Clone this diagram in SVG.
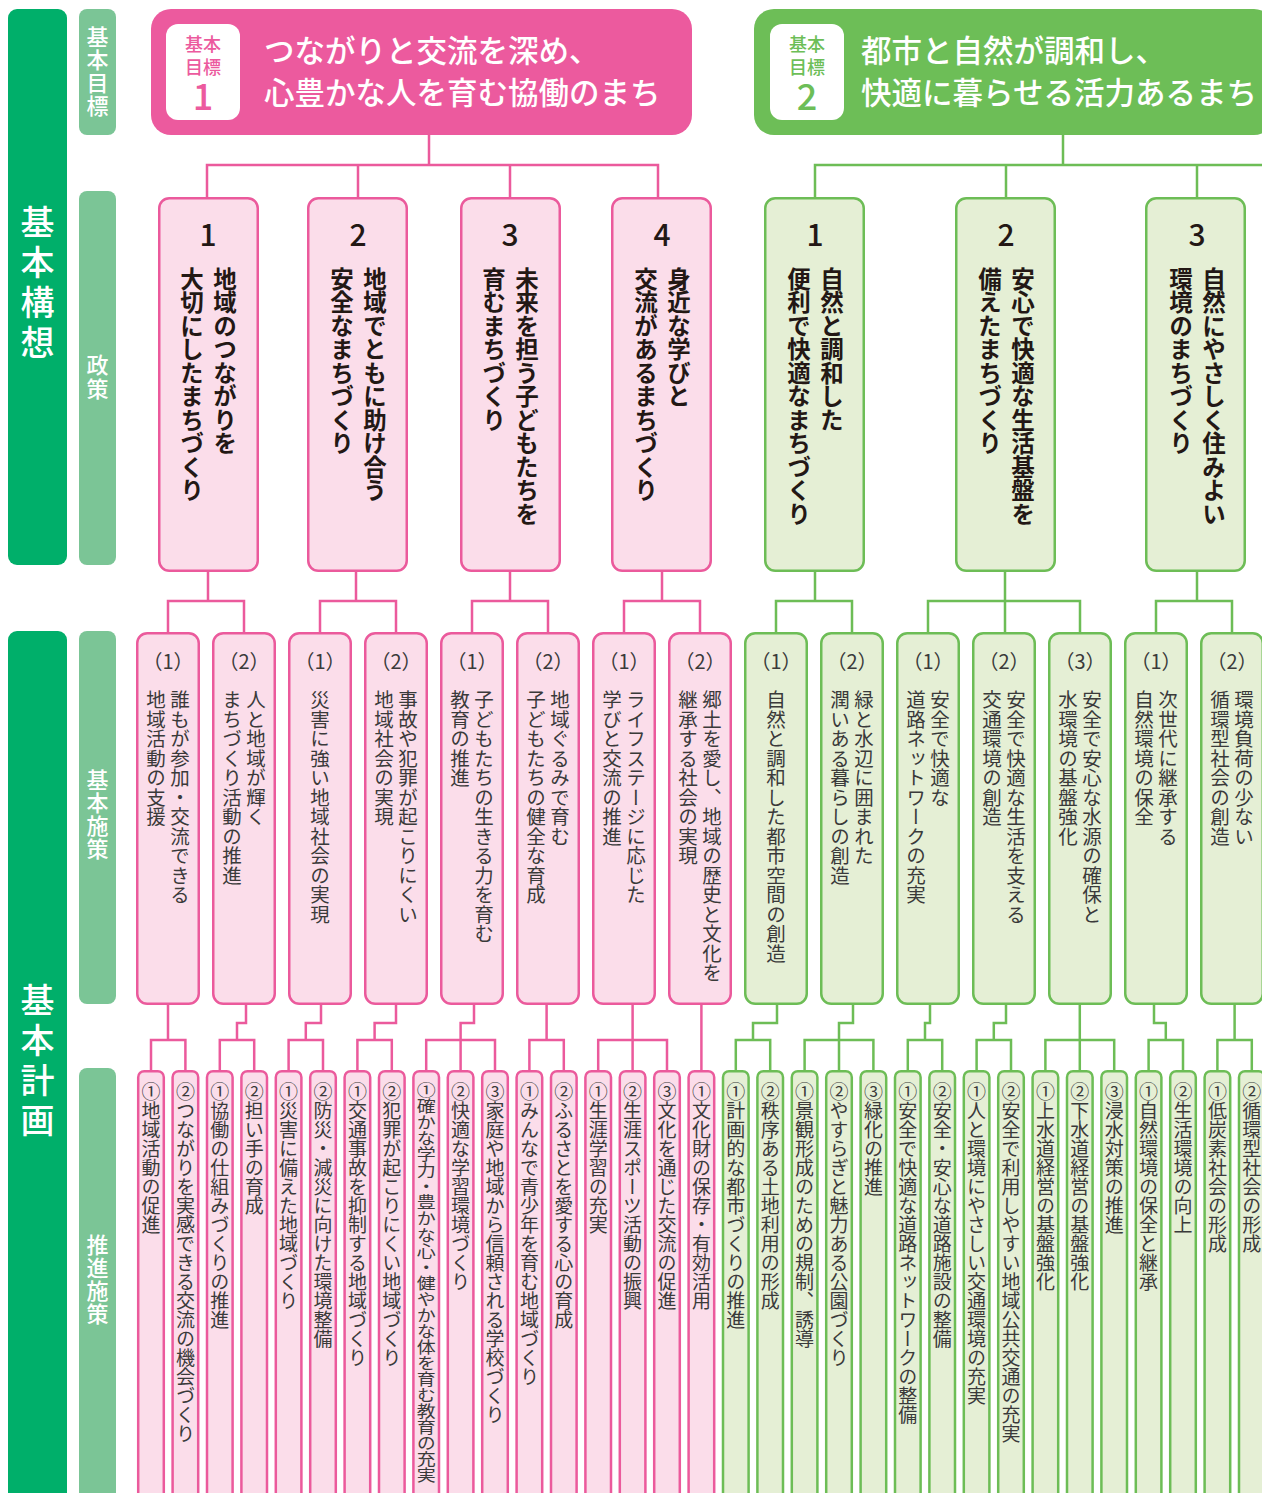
<svg xmlns="http://www.w3.org/2000/svg" width="1262" height="1493" viewBox="0 0 1262 1493">
<style>
  text { font-family: "Noto Sans CJK JP", "Noto Sans", sans-serif; }
  .v { writing-mode: vertical-rl; }
  .dk { fill: #00AF6A; }
  .lt { fill: #7BC596; }
  .lbl { fill: #ffffff; font-size: 22px; font-weight: 500; }
  .big { fill: #ffffff; font-size: 34px; font-weight: 500; letter-spacing: 6px; }
  .ttl { fill: #ffffff; font-size: 30.5px; font-weight: 500; }
  .pbox { fill: #FBDDEA; stroke: #EB5A9C; stroke-width: 2.5; }
  .gbox { fill: #E5EFD5; stroke: #6DBD56; stroke-width: 2.5; }
  .num { fill: #231815; font-size: 30px; font-weight: 500; text-anchor: middle; }
  .pol { fill: #231815; font-size: 23.5px; font-weight: 700; }
  .par { fill: #3A3A3A; font-size: 20px; text-anchor: middle; }
  .bas { fill: #3A3A3A; font-size: 19.5px; }
  .pro { fill: #3A3A3A; font-size: 19px; }
  .gl { font-size: 18px; font-weight: 500; text-anchor: middle; }
  .pc { fill: none; stroke: #EB5A9C; stroke-width: 2.5; }
  .gc { fill: none; stroke: #6DBD56; stroke-width: 2.5; }
</style>

<!-- left labels -->
<g id="side">
  <rect class="dk" x="8" y="9" width="59" height="556" rx="9"/>
  <text class="big v" x="37.5" y="205">基本構想</text>
  <rect class="dk" x="8" y="631" width="59" height="880" rx="9"/>
  <text class="big v" x="37.5" y="983">基本計画</text>
  <rect class="lt" x="79" y="9" width="37" height="126" rx="8"/>
  <text class="lbl v" x="97.5" y="26" style="letter-spacing:1px">基本目標</text>
  <rect class="lt" x="79" y="191" width="37" height="374" rx="8"/>
  <text class="lbl v" x="97.5" y="354" style="letter-spacing:2px">政策</text>
  <rect class="lt" x="79" y="631" width="37" height="373" rx="8"/>
  <text class="lbl v" x="97.5" y="769" style="letter-spacing:1px">基本施策</text>
  <rect class="lt" x="79" y="1068" width="37" height="440" rx="8"/>
  <text class="lbl v" x="97.5" y="1234" style="letter-spacing:1px">推進施策</text>
</g>

<!-- connectors -->
<g id="connectors">
  <path class="pc" d="M429 135V165 M207 197V165H658V197 M358 165V197 M510 165V197"/>
  <path class="gc" d="M1063 135V165 M815 197V165H1262 M1006 165V197 M1197 165V197"/>
  <path class="pc" d="M208 572V601 M168 632V601H244V632"/>
  <path class="pc" d="M356 572V601 M320 632V601H396V632"/>
  <path class="pc" d="M510 572V601 M472 632V601H548V632"/>
  <path class="pc" d="M662 572V601 M624 632V601H700V632"/>
  <path class="gc" d="M815 572V601 M776 632V601H852V632"/>
  <path class="gc" d="M1005 572V632 M928 632V601H1080V632"/>
  <path class="gc" d="M1197 572V601 M1156 632V601H1232V632"/>

  <path class="pc" d="M168 1005V1040 M151 1070V1040H185.4V1070"/>
  <path class="pc" d="M246 1005V1023H237V1040 M219.8 1070V1040H254.2V1070"/>
  <path class="pc" d="M321 1005V1023H305.8V1040 M288.6 1070V1040H323V1070"/>
  <path class="pc" d="M396 1005V1023H374.6V1040 M357.4 1070V1040H391.8V1070"/>
  <path class="pc" d="M474 1005V1023H460.6V1070 M426.2 1070V1040H495V1070"/>
  <path class="pc" d="M546.6 1005V1040 M529.4 1070V1040H563.8V1070"/>
  <path class="pc" d="M632.6 1005V1070 M598.2 1070V1040H667V1070"/>
  <path class="pc" d="M701.4 1005V1070"/>
  <path class="gc" d="M777 1005V1023H753V1040 M735.8 1070V1040H770.2V1070"/>
  <path class="gc" d="M853 1005V1023H839V1070 M804.6 1070V1040H873.4V1070"/>
  <path class="gc" d="M930 1005V1023H925V1040 M907.8 1070V1040H942.2V1070"/>
  <path class="gc" d="M1006 1005V1023H993.8V1040 M976.6 1070V1040H1011V1070"/>
  <path class="gc" d="M1079.8 1005V1070 M1045.4 1070V1040H1114.2V1070"/>
  <path class="gc" d="M1154 1005V1023H1165.8V1040 M1148.6 1070V1040H1183V1070"/>
  <path class="gc" d="M1234.6 1005V1040 M1217.4 1070V1040H1251.8V1070"/>
</g>

<!-- goals -->
<g id="goal1">
  <rect x="151" y="9" width="541" height="126" rx="20" fill="#EC5A9E"/>
  <rect x="166" y="24" width="74" height="96" rx="12" fill="#ffffff"/>
  <text class="gl" x="203" y="51" fill="#EC5A9E">基本</text>
  <text class="gl" x="203" y="74" fill="#EC5A9E">目標</text>
  <text x="203" y="110" fill="#EC5A9E" font-size="36" font-weight="500" text-anchor="middle">1</text>
  <text class="ttl" x="264" y="62">つながりと交流を深め、</text>
  <text class="ttl" x="264" y="104">心豊かな人を育む協働のまち</text>
</g>
<g id="goal2">
  <rect x="754" y="9" width="520" height="126" rx="20" fill="#6DBE57"/>
  <rect x="770" y="24" width="74" height="96" rx="12" fill="#ffffff"/>
  <text class="gl" x="807" y="51" fill="#6DBE57">基本</text>
  <text class="gl" x="807" y="74" fill="#6DBE57">目標</text>
  <text x="807" y="110" fill="#6DBE57" font-size="36" font-weight="500" text-anchor="middle">2</text>
  <text class="ttl" x="861" y="62">都市と自然が調和し、</text>
  <text class="ttl" x="861" y="104">快適に暮らせる活力あるまち</text>
</g>

<!-- policies -->
<g id="policy-p1"><rect class="pbox" x="159.25" y="198.25" width="98.5" height="372.5" rx="10"/>
  <text class="num" x="208" y="246">1</text>
  <text class="pol v" x="225" y="267">地域のつながりを</text>
  <text class="pol v" x="192" y="267">大切にしたまちづくり</text></g>
<g id="policy-p2"><rect class="pbox" x="308.25" y="198.25" width="98.5" height="372.5" rx="10"/>
  <text class="num" x="358" y="246">2</text>
  <text class="pol v" x="375" y="267">地域でともに助け合う</text>
  <text class="pol v" x="342" y="267">安全なまちづくり</text></g>
<g id="policy-p3"><rect class="pbox" x="461.25" y="198.25" width="98.5" height="372.5" rx="10"/>
  <text class="num" x="510" y="246">3</text>
  <text class="pol v" x="527" y="267">未来を担う子どもたちを</text>
  <text class="pol v" x="494" y="267">育むまちづくり</text></g>
<g id="policy-p4"><rect class="pbox" x="612.25" y="198.25" width="98.5" height="372.5" rx="10"/>
  <text class="num" x="662" y="246">4</text>
  <text class="pol v" x="679" y="267">身近な学びと</text>
  <text class="pol v" x="646" y="267">交流があるまちづくり</text></g>
<g id="policy-g1"><rect class="gbox" x="765.25" y="198.25" width="98.5" height="372.5" rx="10"/>
  <text class="num" x="815" y="246">1</text>
  <text class="pol v" x="832" y="267">自然と調和した</text>
  <text class="pol v" x="799" y="267">便利で快適なまちづくり</text></g>
<g id="policy-g2"><rect class="gbox" x="956.25" y="198.25" width="98.5" height="372.5" rx="10"/>
  <text class="num" x="1006" y="246">2</text>
  <text class="pol v" x="1023" y="267">安心で快適な生活基盤を</text>
  <text class="pol v" x="990" y="267">備えたまちづくり</text></g>
<g id="policy-g3"><rect class="gbox" x="1146.25" y="198.25" width="98.5" height="372.5" rx="10"/>
  <text class="num" x="1197" y="246">3</text>
  <text class="pol v" x="1214" y="267">自然にやさしく住みよい</text>
  <text class="pol v" x="1181" y="267">環境のまちづくり</text></g>

<!-- basic measures -->
<g id="basic-p1-1"><rect class="pbox" x="137.25" y="633.25" width="61.5" height="370.5" rx="10"/>
  <text class="par" x="168" y="669">（1）</text>
  <text class="bas v" x="180" y="690">誰もが参加・交流できる</text>
  <text class="bas v" x="156" y="690">地域活動の支援</text></g>
<g id="basic-p1-2"><rect class="pbox" x="213.25" y="633.25" width="61.5" height="370.5" rx="10"/>
  <text class="par" x="244" y="669">（2）</text>
  <text class="bas v" x="256" y="690">人と地域が輝く</text>
  <text class="bas v" x="232" y="690">まちづくり活動の推進</text></g>
<g id="basic-p2-1"><rect class="pbox" x="289.25" y="633.25" width="61.5" height="370.5" rx="10"/>
  <text class="par" x="320" y="669">（1）</text>
  <text class="bas v" x="320" y="690">災害に強い地域社会の実現</text></g>
<g id="basic-p2-2"><rect class="pbox" x="365.25" y="633.25" width="61.5" height="370.5" rx="10"/>
  <text class="par" x="396" y="669">（2）</text>
  <text class="bas v" x="408" y="690">事故や犯罪が起こりにくい</text>
  <text class="bas v" x="384" y="690">地域社会の実現</text></g>
<g id="basic-p3-1"><rect class="pbox" x="441.25" y="633.25" width="61.5" height="370.5" rx="10"/>
  <text class="par" x="472" y="669">（1）</text>
  <text class="bas v" x="484" y="690">子どもたちの生きる力を育む</text>
  <text class="bas v" x="460" y="690">教育の推進</text></g>
<g id="basic-p3-2"><rect class="pbox" x="517.25" y="633.25" width="61.5" height="370.5" rx="10"/>
  <text class="par" x="548" y="669">（2）</text>
  <text class="bas v" x="560" y="690">地域ぐるみで育む</text>
  <text class="bas v" x="536" y="690">子どもたちの健全な育成</text></g>
<g id="basic-p4-1"><rect class="pbox" x="593.25" y="633.25" width="61.5" height="370.5" rx="10"/>
  <text class="par" x="624" y="669">（1）</text>
  <text class="bas v" x="636" y="690">ライフステージに応じた</text>
  <text class="bas v" x="612" y="690">学びと交流の推進</text></g>
<g id="basic-p4-2"><rect class="pbox" x="669.25" y="633.25" width="61.5" height="370.5" rx="10"/>
  <text class="par" x="700" y="669">（2）</text>
  <text class="bas v" x="712" y="690">郷土を愛し、地域の歴史と文化を</text>
  <text class="bas v" x="688" y="690">継承する社会の実現</text></g>
<g id="basic-g1-1"><rect class="gbox" x="745.25" y="633.25" width="61.5" height="370.5" rx="10"/>
  <text class="par" x="776" y="669">（1）</text>
  <text class="bas v" x="776" y="690">自然と調和した都市空間の創造</text></g>
<g id="basic-g1-2"><rect class="gbox" x="821.25" y="633.25" width="61.5" height="370.5" rx="10"/>
  <text class="par" x="852" y="669">（2）</text>
  <text class="bas v" x="864" y="690">緑と水辺に囲まれた</text>
  <text class="bas v" x="840" y="690">潤いある暮らしの創造</text></g>
<g id="basic-g2-1"><rect class="gbox" x="897.25" y="633.25" width="61.5" height="370.5" rx="10"/>
  <text class="par" x="928" y="669">（1）</text>
  <text class="bas v" x="940" y="690">安全で快適な</text>
  <text class="bas v" x="916" y="690">道路ネットワークの充実</text></g>
<g id="basic-g2-2"><rect class="gbox" x="973.25" y="633.25" width="61.5" height="370.5" rx="10"/>
  <text class="par" x="1004" y="669">（2）</text>
  <text class="bas v" x="1016" y="690">安全で快適な生活を支える</text>
  <text class="bas v" x="992" y="690">交通環境の創造</text></g>
<g id="basic-g2-3"><rect class="gbox" x="1049.25" y="633.25" width="61.5" height="370.5" rx="10"/>
  <text class="par" x="1080" y="669">（3）</text>
  <text class="bas v" x="1092" y="690">安全で安心な水源の確保と</text>
  <text class="bas v" x="1068" y="690">水環境の基盤強化</text></g>
<g id="basic-g3-1"><rect class="gbox" x="1125.25" y="633.25" width="61.5" height="370.5" rx="10"/>
  <text class="par" x="1156" y="669">（1）</text>
  <text class="bas v" x="1168" y="690">次世代に継承する</text>
  <text class="bas v" x="1144" y="690">自然環境の保全</text></g>
<g id="basic-g3-2"><rect class="gbox" x="1201.25" y="633.25" width="61.5" height="370.5" rx="10"/>
  <text class="par" x="1232" y="669">（2）</text>
  <text class="bas v" x="1244" y="690">環境負荷の少ない</text>
  <text class="bas v" x="1220" y="690">循環型社会の創造</text></g>

<!-- promotion measures -->
<g id="promo-0"><rect class="pbox" x="138.2" y="1071.2" width="25.6" height="440" rx="6"/><text class="pro v" x="151" y="1082">①地域活動の促進</text></g>
<g id="promo-1"><rect class="pbox" x="172.6" y="1071.2" width="25.6" height="440" rx="6"/><text class="pro v" x="185.4" y="1082">②つながりを実感できる交流の機会づくり</text></g>
<g id="promo-2"><rect class="pbox" x="207" y="1071.2" width="25.6" height="440" rx="6"/><text class="pro v" x="219.8" y="1082">①協働の仕組みづくりの推進</text></g>
<g id="promo-3"><rect class="pbox" x="241.4" y="1071.2" width="25.6" height="440" rx="6"/><text class="pro v" x="254.2" y="1082">②担い手の育成</text></g>
<g id="promo-4"><rect class="pbox" x="275.8" y="1071.2" width="25.6" height="440" rx="6"/><text class="pro v" x="288.6" y="1082">①災害に備えた地域づくり</text></g>
<g id="promo-5"><rect class="pbox" x="310.2" y="1071.2" width="25.6" height="440" rx="6"/><text class="pro v" x="323" y="1082">②防災・減災に向けた環境整備</text></g>
<g id="promo-6"><rect class="pbox" x="344.6" y="1071.2" width="25.6" height="440" rx="6"/><text class="pro v" x="357.4" y="1082">①交通事故を抑制する地域づくり</text></g>
<g id="promo-7"><rect class="pbox" x="379" y="1071.2" width="25.6" height="440" rx="6"/><text class="pro v" x="391.8" y="1082">②犯罪が起こりにくい地域づくり</text></g>
<g id="promo-8"><rect class="pbox" x="413.4" y="1071.2" width="25.6" height="440" rx="6"/><text class="pro v" x="0" y="0" transform="translate(426.2 1082) scale(1 0.845)">①確かな学力・豊かな心・健やかな体を育む教育の充実</text></g>
<g id="promo-9"><rect class="pbox" x="447.8" y="1071.2" width="25.6" height="440" rx="6"/><text class="pro v" x="460.6" y="1082">②快適な学習環境づくり</text></g>
<g id="promo-10"><rect class="pbox" x="482.2" y="1071.2" width="25.6" height="440" rx="6"/><text class="pro v" x="495" y="1082">③家庭や地域から信頼される学校づくり</text></g>
<g id="promo-11"><rect class="pbox" x="516.6" y="1071.2" width="25.6" height="440" rx="6"/><text class="pro v" x="529.4" y="1082">①みんなで青少年を育む地域づくり</text></g>
<g id="promo-12"><rect class="pbox" x="551" y="1071.2" width="25.6" height="440" rx="6"/><text class="pro v" x="563.8" y="1082">②ふるさとを愛する心の育成</text></g>
<g id="promo-13"><rect class="pbox" x="585.4" y="1071.2" width="25.6" height="440" rx="6"/><text class="pro v" x="598.2" y="1082">①生涯学習の充実</text></g>
<g id="promo-14"><rect class="pbox" x="619.8" y="1071.2" width="25.6" height="440" rx="6"/><text class="pro v" x="632.6" y="1082">②生涯スポーツ活動の振興</text></g>
<g id="promo-15"><rect class="pbox" x="654.2" y="1071.2" width="25.6" height="440" rx="6"/><text class="pro v" x="667" y="1082">③文化を通じた交流の促進</text></g>
<g id="promo-16"><rect class="pbox" x="688.6" y="1071.2" width="25.6" height="440" rx="6"/><text class="pro v" x="701.4" y="1082">①文化財の保存・有効活用</text></g>
<g id="promo-17"><rect class="gbox" x="723" y="1071.2" width="25.6" height="440" rx="6"/><text class="pro v" x="735.8" y="1082">①計画的な都市づくりの推進</text></g>
<g id="promo-18"><rect class="gbox" x="757.4" y="1071.2" width="25.6" height="440" rx="6"/><text class="pro v" x="770.2" y="1082">②秩序ある土地利用の形成</text></g>
<g id="promo-19"><rect class="gbox" x="791.8" y="1071.2" width="25.6" height="440" rx="6"/><text class="pro v" x="804.6" y="1082">①景観形成のための規制、誘導</text></g>
<g id="promo-20"><rect class="gbox" x="826.2" y="1071.2" width="25.6" height="440" rx="6"/><text class="pro v" x="839" y="1082">②やすらぎと魅力ある公園づくり</text></g>
<g id="promo-21"><rect class="gbox" x="860.6" y="1071.2" width="25.6" height="440" rx="6"/><text class="pro v" x="873.4" y="1082">③緑化の推進</text></g>
<g id="promo-22"><rect class="gbox" x="895" y="1071.2" width="25.6" height="440" rx="6"/><text class="pro v" x="907.8" y="1082">①安全で快適な道路ネットワークの整備</text></g>
<g id="promo-23"><rect class="gbox" x="929.4" y="1071.2" width="25.6" height="440" rx="6"/><text class="pro v" x="942.2" y="1082">②安全・安心な道路施設の整備</text></g>
<g id="promo-24"><rect class="gbox" x="963.8" y="1071.2" width="25.6" height="440" rx="6"/><text class="pro v" x="976.6" y="1082">①人と環境にやさしい交通環境の充実</text></g>
<g id="promo-25"><rect class="gbox" x="998.2" y="1071.2" width="25.6" height="440" rx="6"/><text class="pro v" x="1011" y="1082">②安全で利用しやすい地域公共交通の充実</text></g>
<g id="promo-26"><rect class="gbox" x="1032.6" y="1071.2" width="25.6" height="440" rx="6"/><text class="pro v" x="1045.4" y="1082">①上水道経営の基盤強化</text></g>
<g id="promo-27"><rect class="gbox" x="1067" y="1071.2" width="25.6" height="440" rx="6"/><text class="pro v" x="1079.8" y="1082">②下水道経営の基盤強化</text></g>
<g id="promo-28"><rect class="gbox" x="1101.4" y="1071.2" width="25.6" height="440" rx="6"/><text class="pro v" x="1114.2" y="1082">③浸水対策の推進</text></g>
<g id="promo-29"><rect class="gbox" x="1135.8" y="1071.2" width="25.6" height="440" rx="6"/><text class="pro v" x="1148.6" y="1082">①自然環境の保全と継承</text></g>
<g id="promo-30"><rect class="gbox" x="1170.2" y="1071.2" width="25.6" height="440" rx="6"/><text class="pro v" x="1183" y="1082">②生活環境の向上</text></g>
<g id="promo-31"><rect class="gbox" x="1204.6" y="1071.2" width="25.6" height="440" rx="6"/><text class="pro v" x="1217.4" y="1082">①低炭素社会の形成</text></g>
<g id="promo-32"><rect class="gbox" x="1239" y="1071.2" width="25.6" height="440" rx="6"/><text class="pro v" x="1251.8" y="1082">②循環型社会の形成</text></g>
</svg>
